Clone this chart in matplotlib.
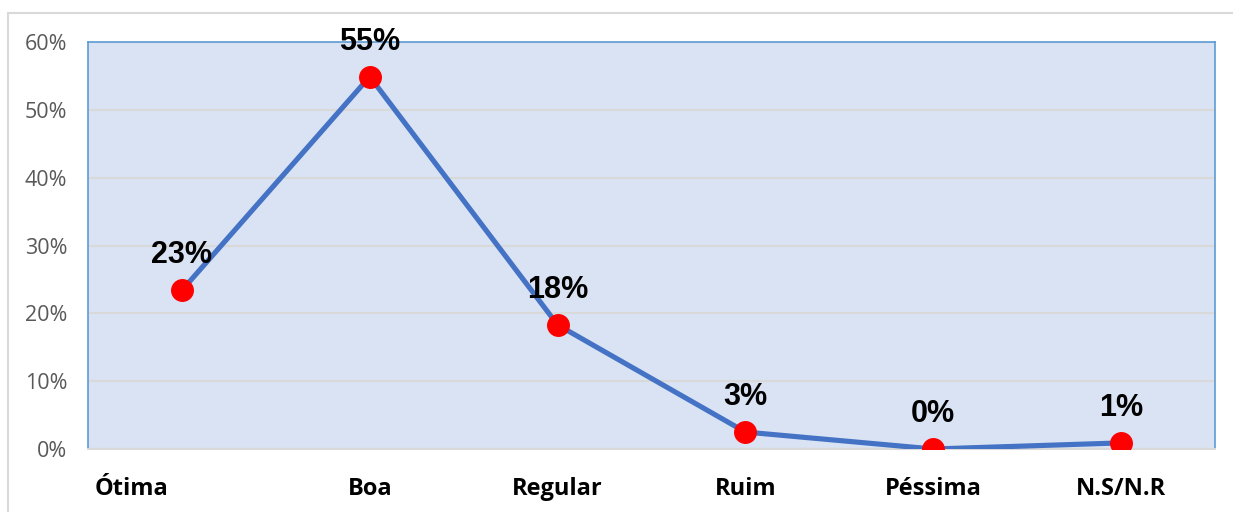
import matplotlib.pyplot as plt
import matplotlib.transforms as mtransforms
from matplotlib.patches import Rectangle
from matplotlib.ticker import FuncFormatter

categories = ['Ótima', 'Boa', 'Regular', 'Ruim', 'Péssima', 'N.S/N.R']
values = [23.4, 54.9, 18.3, 2.5, 0.0, 0.9]
labels = ['23%', '55%', '18%', '3%', '0%', '1%']

plt.rcParams['font.family'] = ['Open Sans', 'DejaVu Sans']

fig = plt.figure(figsize=(12.33, 5.12), dpi=100)
fig.patches.append(Rectangle((8 / 1233, -0.1), 1.2, (512 - 13) / 512 + 0.1,
                             transform=fig.transFigure, fill=False,
                             edgecolor='#D9D9D9', linewidth=1.5))
ax = fig.add_axes([88 / 1233, 63 / 512, 1127 / 1233, 407 / 512])
ax.set_facecolor('#DAE3F3')

x = range(len(categories))
ax.plot(x, values, color='#4472C4', linewidth=3.7, zorder=3,
        marker='o', markersize=15.5, markerfacecolor='#FF0000',
        markeredgecolor='#FF0000')
for i, (v, lab) in enumerate(zip(values, labels)):
    ax.annotate(lab, (i, v), xytext=(0, 35), textcoords='offset pixels',
                ha='center', va='center', fontsize=22, fontweight='bold',
                family='Liberation Sans', color='black', zorder=4,
                annotation_clip=False)

ax.set_xlim(-0.5, 5.5)
ax.set_ylim(0, 60)
ax.set_yticks(range(0, 61, 10))
ax.yaxis.set_major_formatter(FuncFormatter(lambda v, p: '%d%%' % v))
ax.grid(axis='y', color='#D9D9D9', linewidth=1.5)
ax.set_axisbelow(True)
ax.set_xticks(list(x))
ax.set_xticklabels(categories, fontsize=17, fontweight='bold', color='black')
ax.tick_params(axis='x', length=0, pad=20)
ax.tick_params(axis='y', length=0, pad=15, labelsize=15.5, labelcolor='#595959')

# first label sits left of its tick in the original
first = ax.get_xticklabels()[0]
first.set_transform(first.get_transform() +
                    mtransforms.ScaledTranslation(-0.5, 0, fig.dpi_scale_trans))

for side in ['left', 'top', 'right']:
    ax.spines[side].set_color('#5B9BD5')
    ax.spines[side].set_linewidth(1.2)
ax.spines['bottom'].set_color('#D9D9D9')
ax.spines['bottom'].set_linewidth(1.5)

fig.savefig('out.png', dpi=100)
